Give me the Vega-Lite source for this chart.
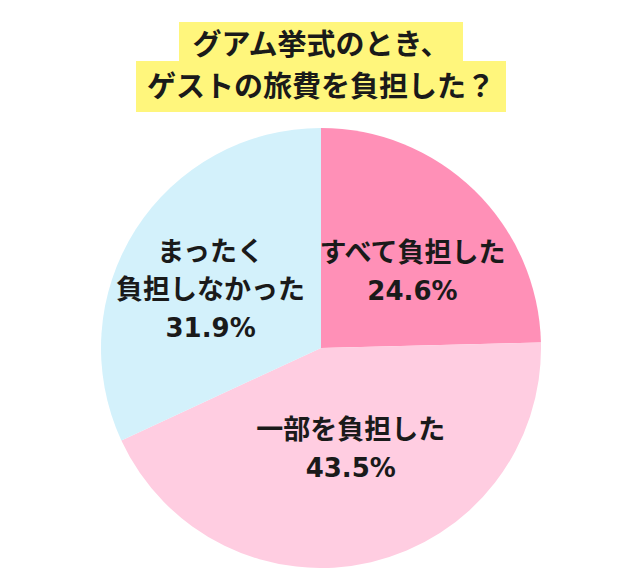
{
  "$schema": "https://vega.github.io/schema/vega-lite/v6.json",
  "background": "white",
  "padding": {"left": 101, "top": 22, "right": 0, "bottom": 0},
  "config": {
    "view": {"stroke": null},
    "font": "Noto Sans CJK JP",
    "text": {"font": "Noto Sans CJK JP"}
  },
  "datasets": {
    "heading": [
      {"row": 1, "line": "グアム挙式のとき、"},
      {"row": 2, "line": "ゲストの旅費を負担した？"}
    ],
    "answers": [
      {"rank": 1, "answer": "すべて負担した", "percent": 24.6},
      {"rank": 2, "answer": "一部を負担した", "percent": 43.5},
      {"rank": 3, "answer": "まったく\n負担しなかった", "percent": 31.9}
    ]
  },
  "center": true,
  "spacing": 16,
  "vconcat": [
    {
      "center": true,
      "spacing": 0,
      "vconcat": [
        {
          "width": 284,
          "height": 39,
          "view": {"fill": "#fff67c", "stroke": null},
          "data": {"name": "heading"},
          "transform": [{"filter": "datum.row === 1"}],
          "mark": {"type": "text", "fontSize": 29, "fontWeight": "bold", "fill": "#1a1a1a", "baseline": "middle", "align": "center", "dy": 4},
          "encoding": {"text": {"field": "line"}}
        },
        {
          "width": 370,
          "height": 51,
          "view": {"fill": "#fff67c", "stroke": null},
          "data": {"name": "heading"},
          "transform": [{"filter": "datum.row === 2"}],
          "mark": {"type": "text", "fontSize": 29, "fontWeight": "bold", "fill": "#1a1a1a", "baseline": "middle", "align": "center", "dy": 1},
          "encoding": {"text": {"field": "line"}}
        }
      ]
    },
    {
      "width": 440,
      "height": 440,
      "data": {"name": "answers"},
      "encoding": {
        "theta": {"field": "percent", "type": "quantitative", "stack": true},
        "order": {"field": "rank", "type": "quantitative"}
      },
      "layer": [
        {
          "mark": {"type": "arc", "outerRadius": 220, "stroke": null},
          "encoding": {
            "color": {
              "field": "answer",
              "type": "nominal",
              "sort": ["すべて負担した", "一部を負担した", "まったく\n負担しなかった"],
              "scale": {
                "domain": ["すべて負担した", "一部を負担した", "まったく\n負担しなかった"],
                "range": ["#ff90b7", "#ffcde1", "#d3f1fb"]
              },
              "legend": null
            }
          }
        },
        {
          "mark": {
            "type": "text", "radius": 105, "fontSize": 27, "fontWeight": "bold", "fill": "#1a1a1a",
            "lineBreak": "\n", "lineHeight": 38, "align": "center", "baseline": "middle",
            "dx": {"expr": "26 * sin(PI * (datum.percent_start + datum.percent_end) / 100)"},
            "dy": {"expr": "-19 * length(split(datum.answer, '\\n'))"}
          },
          "encoding": {"text": {"field": "answer"}}
        },
        {
          "mark": {
            "type": "text", "radius": 105, "fontSize": 26, "fontWeight": "bold", "fill": "#1a1a1a",
            "font": "DejaVu Sans", "align": "center", "baseline": "middle",
            "text": {"expr": "format(datum.percent, '.1f') + '%'"},
            "dx": {"expr": "26 * sin(PI * (datum.percent_start + datum.percent_end) / 100)"},
            "dy": {"expr": "19 * length(split(datum.answer, '\\n'))"}
          }
        }
      ]
    }
  ]
}
